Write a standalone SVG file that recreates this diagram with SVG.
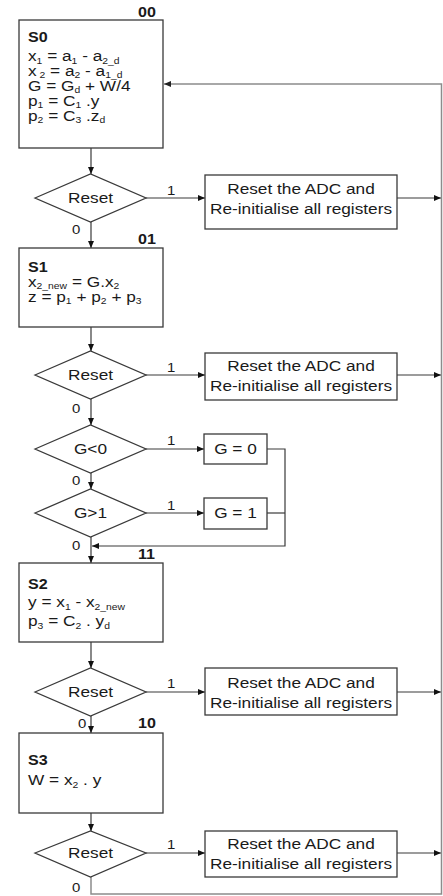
<svg xmlns="http://www.w3.org/2000/svg" width="443" height="896" viewBox="0 0 443 896">
<style>
.box{fill:#fff;stroke:#3a3a3a;stroke-width:1.3}
.ln{fill:none;stroke:#3a3a3a;stroke-width:1.2}
.fb{fill:none;stroke:#8c8c8c;stroke-width:1.5}
.t{font-family:"Liberation Sans",Arial,sans-serif;font-size:15px;fill:#1a1a1a}
.m{text-anchor:middle}
.b{font-weight:bold;font-size:14px}
.s{font-size:9px}
.l{font-size:13px}
</style>
<defs>
<marker id="ah" markerWidth="7" markerHeight="6" refX="7" refY="3" orient="auto" markerUnits="userSpaceOnUse"><path d="M0,0 L7,3 L0,6 z" fill="#111"/></marker>
<marker id="ahg" markerWidth="7" markerHeight="6" refX="7" refY="3" orient="auto" markerUnits="userSpaceOnUse"><path d="M0,0 L7,3 L0,6 z" fill="#222"/></marker>
</defs>
<rect width="443" height="896" fill="#fff"/>

<g id="connectors">
<line class="ln" x1="91" y1="148" x2="91" y2="174" marker-end="url(#ah)"/>
<line class="ln" x1="146" y1="198" x2="205" y2="198" marker-end="url(#ah)"/>
<line class="ln" x1="397" y1="198" x2="441" y2="198" marker-end="url(#ah)"/>
<line class="ln" x1="91" y1="222" x2="91" y2="248" marker-end="url(#ah)"/>
<line class="ln" x1="91" y1="327" x2="91" y2="351" marker-end="url(#ah)"/>
<line class="ln" x1="146" y1="375" x2="205" y2="375" marker-end="url(#ah)"/>
<line class="ln" x1="397" y1="375" x2="441" y2="375" marker-end="url(#ah)"/>
<line class="ln" x1="91" y1="399" x2="91" y2="425" marker-end="url(#ah)"/>
<line class="ln" x1="146" y1="449" x2="204" y2="449" marker-end="url(#ah)"/>
<line class="ln" x1="91" y1="473" x2="91" y2="489" marker-end="url(#ah)"/>
<line class="ln" x1="146" y1="513" x2="204" y2="513" marker-end="url(#ah)"/>
<polyline class="ln" points="267,449 285,449 285,546 92,546" marker-end="url(#ah)"/>
<line class="ln" x1="267" y1="513" x2="285" y2="513"/>
<line class="ln" x1="91" y1="537" x2="91" y2="563" marker-end="url(#ah)"/>
<line class="ln" x1="91" y1="642" x2="91" y2="668" marker-end="url(#ah)"/>
<line class="ln" x1="146" y1="692" x2="205" y2="692" marker-end="url(#ah)"/>
<line class="ln" x1="397" y1="692" x2="441" y2="692" marker-end="url(#ah)"/>
<line class="ln" x1="91" y1="716" x2="91" y2="733" marker-end="url(#ah)"/>
<line class="ln" x1="91" y1="813" x2="91" y2="831" marker-end="url(#ah)"/>
<line class="ln" x1="146" y1="853" x2="205" y2="853" marker-end="url(#ah)"/>
<line class="ln" x1="397" y1="853" x2="441" y2="853" marker-end="url(#ah)"/>
<polyline class="fb" points="91,877 91,894 441.5,894 441.5,84 164,84" marker-end="url(#ahg)"/>
</g>

<g id="labels">
<text class="t l" transform="translate(167,195) scale(1.15,1)">1</text>
<text class="t l" transform="translate(72,234) scale(1.15,1)">0</text>
<text class="t l" transform="translate(167,372) scale(1.15,1)">1</text>
<text class="t l" transform="translate(72,413) scale(1.15,1)">0</text>
<text class="t l" transform="translate(167,445) scale(1.15,1)">1</text>
<text class="t l" transform="translate(72,485) scale(1.15,1)">0</text>
<text class="t l" transform="translate(167,510) scale(1.15,1)">1</text>
<text class="t l" transform="translate(72,550) scale(1.15,1)">0</text>
<text class="t l" transform="translate(167,688) scale(1.15,1)">1</text>
<text class="t l" transform="translate(78,728) scale(1.15,1)">0</text>
<text class="t l" transform="translate(167,849) scale(1.15,1)">1</text>
<text class="t l" transform="translate(72,892) scale(1.15,1)">0</text>
</g>

<g id="S0">
<rect class="box" x="19" y="20" width="144" height="128"/>
<text class="t b" transform="translate(138,17) scale(1.15,1)">00</text>
<text class="t b" transform="translate(28,42) scale(1.15,1)">S0</text>
<text class="t" transform="translate(28,61) scale(1.15,1)">x<tspan class="s" dy="2.5">1</tspan><tspan dy="-2.5"> = a</tspan><tspan class="s" dy="2.5">1</tspan><tspan dy="-2.5"> - a</tspan><tspan class="s" dy="2.5">2_d</tspan></text>
<text class="t" transform="translate(28,75.5) scale(1.15,1)">x<tspan class="s" dy="2.5"> 2</tspan><tspan dy="-2.5"> = a</tspan><tspan class="s" dy="2.5">2</tspan><tspan dy="-2.5"> - a</tspan><tspan class="s" dy="2.5">1_d</tspan></text>
<text class="t" transform="translate(28,90.5) scale(1.15,1)">G = G<tspan class="s" dy="2.5">d</tspan><tspan dy="-2.5"> + W/4</tspan></text>
<text class="t" transform="translate(28,105.5) scale(1.15,1)">p<tspan class="s" dy="2.5">1</tspan><tspan dy="-2.5"> = C</tspan><tspan class="s" dy="2.5">1</tspan><tspan dy="-2.5"> .y</tspan></text>
<text class="t" transform="translate(28,120.5) scale(1.15,1)">p<tspan class="s" dy="2.5">2</tspan><tspan dy="-2.5"> = C</tspan><tspan class="s" dy="2.5">3</tspan><tspan dy="-2.5"> .z</tspan><tspan class="s" dy="2.5">d</tspan></text>
</g>

<g id="reset1">
<polygon class="box" points="35,198 90.5,174 146,198 90.5,222"/>
<text class="t m" transform="translate(90.5,203) scale(1.15,1)">Reset</text>
</g>
<g id="action1">
<rect class="box" x="205" y="175" width="192" height="54"/>
<text class="t m" transform="translate(301,194) scale(1.15,1)">Reset the ADC and</text>
<text class="t m" transform="translate(301,214) scale(1.15,1)">Re-initialise all registers</text>
</g>

<g id="S1">
<rect class="box" x="19" y="248" width="144" height="79"/>
<text class="t b" transform="translate(138,244) scale(1.15,1)">01</text>
<text class="t b" transform="translate(28,272) scale(1.15,1)">S1</text>
<text class="t" transform="translate(28,286.5) scale(1.15,1)">x<tspan class="s" dy="2.5">2_new</tspan><tspan dy="-2.5">  = G.x</tspan><tspan class="s" dy="2.5">2</tspan></text>
<text class="t" transform="translate(28,301.5) scale(1.15,1)">z = p<tspan class="s" dy="2.5">1</tspan><tspan dy="-2.5"> + p</tspan><tspan class="s" dy="2.5">2</tspan><tspan dy="-2.5"> + p</tspan><tspan class="s" dy="2.5">3</tspan></text>
</g>

<g id="reset2">
<polygon class="box" points="35,375 90.5,351 146,375 90.5,399"/>
<text class="t m" transform="translate(90.5,380) scale(1.15,1)">Reset</text>
</g>
<g id="action2">
<rect class="box" x="205" y="353" width="192" height="47"/>
<text class="t m" transform="translate(301,371) scale(1.15,1)">Reset the ADC and</text>
<text class="t m" transform="translate(301,391) scale(1.15,1)">Re-initialise all registers</text>
</g>

<g id="Glt0">
<polygon class="box" points="35,449 90.5,425 146,449 90.5,473"/>
<text class="t m" transform="translate(90.5,454) scale(1.15,1)">G&lt;0</text>
</g>
<g id="G0">
<rect class="box" x="204" y="434" width="63" height="30"/>
<text class="t m" transform="translate(235.5,454) scale(1.15,1)">G = 0</text>
</g>

<g id="Ggt1">
<polygon class="box" points="35,513 90.5,489 146,513 90.5,537"/>
<text class="t m" transform="translate(90.5,518) scale(1.15,1)">G&gt;1</text>
</g>
<g id="G1">
<rect class="box" x="204" y="498" width="63" height="31"/>
<text class="t m" transform="translate(235.5,518) scale(1.15,1)">G = 1</text>
</g>

<g id="S2">
<rect class="box" x="19" y="563" width="144" height="79"/>
<text class="t b" transform="translate(138,559) scale(1.15,1)">11</text>
<text class="t b" transform="translate(28,589) scale(1.15,1)">S2</text>
<text class="t" transform="translate(28,607) scale(1.15,1)">y = x<tspan class="s" dy="2.5">1</tspan><tspan dy="-2.5">  - x</tspan><tspan class="s" dy="2.5">2_new</tspan></text>
<text class="t" transform="translate(28,626) scale(1.15,1)">p<tspan class="s" dy="2.5">3</tspan><tspan dy="-2.5">  = C</tspan><tspan class="s" dy="2.5">2</tspan><tspan dy="-2.5">  . y</tspan><tspan class="s" dy="2.5">d</tspan></text>
</g>

<g id="reset3">
<polygon class="box" points="35,692 90.5,668 146,692 90.5,716"/>
<text class="t m" transform="translate(90.5,697) scale(1.15,1)">Reset</text>
</g>
<g id="action3">
<rect class="box" x="205" y="668" width="192" height="47"/>
<text class="t m" transform="translate(301,688) scale(1.15,1)">Reset the ADC and</text>
<text class="t m" transform="translate(301,708) scale(1.15,1)">Re-initialise all registers</text>
</g>

<g id="S3">
<rect class="box" x="19" y="733" width="144" height="80"/>
<text class="t b" transform="translate(138,728) scale(1.15,1)">10</text>
<text class="t b" transform="translate(28,765) scale(1.15,1)">S3</text>
<text class="t" transform="translate(28,785) scale(1.15,1)">W = x<tspan class="s" dy="2.5">2</tspan><tspan dy="-2.5">  . y</tspan></text>
</g>

<g id="reset4">
<polygon class="box" points="35,853 90.5,831 146,853 90.5,877"/>
<text class="t m" transform="translate(90.5,858) scale(1.15,1)">Reset</text>
</g>
<g id="action4">
<rect class="box" x="205" y="831" width="192" height="46"/>
<text class="t m" transform="translate(301,849) scale(1.15,1)">Reset the ADC and</text>
<text class="t m" transform="translate(301,869) scale(1.15,1)">Re-initialise all registers</text>
</g>
</svg>
